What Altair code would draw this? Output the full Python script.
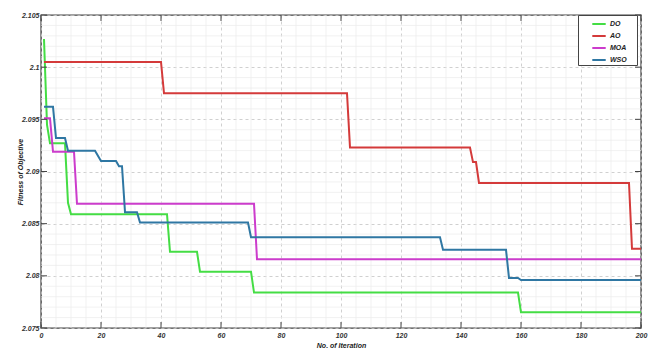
import altair as alt
import pandas as pd

series_names = ["DO", "AO", "MOA", "WSO"]
series_colors = ["#44dd44", "#d43a3a", "#cc3ccc", "#2f77a3"]

do_iter = [1, 2, 3, 8, 9, 10, 42, 43, 52, 53, 70, 71, 159, 160, 200]
do_fit = [2.1027, 2.0945, 2.0927, 2.0927, 2.0870, 2.0859, 2.0859, 2.0823, 2.0823,
          2.0804, 2.0804, 2.0784, 2.0784, 2.0765, 2.0765]

ao_iter = [1, 40, 41, 102, 103, 143, 144, 145, 146, 196, 197, 200]
ao_fit = [2.1005, 2.1005, 2.0975, 2.0975, 2.0923, 2.0923, 2.0909, 2.0909, 2.0889,
          2.0889, 2.0826, 2.0826]

moa_iter = [1, 3, 4, 11, 12, 71, 72, 200]
moa_fit = [2.0951, 2.0951, 2.0919, 2.0919, 2.0869, 2.0869, 2.0816, 2.0816]

wso_iter = [1, 4, 5, 8, 9, 18, 20, 25, 26, 27, 28, 32, 33, 69, 70, 133, 134, 155,
            156, 159, 160, 200]
wso_fit = [2.0962, 2.0962, 2.0932, 2.0932, 2.0920, 2.0920, 2.0910, 2.0910, 2.0905,
           2.0905, 2.0861, 2.0861, 2.0851, 2.0851, 2.0837, 2.0837, 2.0825, 2.0825,
           2.0798, 2.0798, 2.0796, 2.0796]

x_ticks = list(range(0, 201, 20))
y_ticks = [2.075, 2.08, 2.085, 2.09, 2.095, 2.1, 2.105]
x_minor = [v for v in range(0, 201, 5) if v % 20 != 0]
y_minor = [round(2.075 + 0.001 * i, 3) for i in range(31) if i % 5 != 0]

rows = []
for name, its, fits in zip(series_names, [do_iter, ao_iter, moa_iter, wso_iter],
                           [do_fit, ao_fit, moa_fit, wso_fit]):
    for i, f in zip(its, fits):
        rows.append({"Algorithm": name, "iter": i, "fit": f})
df = pd.DataFrame(rows)

W, H = 600, 313
FONT = "Liberation Sans"

xscale = alt.Scale(domain=[0, 200], nice=False, zero=False)
yscale = alt.Scale(domain=[2.075, 2.105], nice=False, zero=False)

xaxis = alt.Axis(values=x_ticks, title="No. of Iteration", ticks=False, domain=False,
                 labelFont=FONT, labelFontSize=7, labelFontStyle="italic",
                 labelFontWeight="bold", labelColor="#333333", labelPadding=3,
                 titleFont=FONT, titleFontSize=7, titleFontStyle="italic",
                 titleFontWeight="bold", titleColor="#222222", titlePadding=3,
                 grid=True, gridDash=[3, 3], gridColor="#c4c4c4", gridWidth=0.8,
                 labelFlush=False)
yaxis = alt.Axis(values=y_ticks, title="Fitness of Objective", ticks=False, domain=False,
                 format=".3~f",
                 labelFont=FONT, labelFontSize=7, labelFontStyle="italic",
                 labelFontWeight="bold", labelColor="#333333", labelPadding=2,
                 titleFont=FONT, titleFontSize=7, titleFontStyle="italic",
                 titleFontWeight="bold", titleColor="#222222", titleX=-18,
                 grid=True, gridDash=[3, 3], gridColor="#c4c4c4", gridWidth=0.8,
                 labelFlush=False)

minor_x = alt.Chart(pd.DataFrame({"x": x_minor})).mark_rule(
    color="#ebebeb", strokeWidth=0.7).encode(x=alt.X("x:Q", scale=xscale, axis=xaxis))
minor_y = alt.Chart(pd.DataFrame({"y": y_minor})).mark_rule(
    color="#ebebeb", strokeWidth=0.7).encode(y=alt.Y("y:Q", scale=yscale, axis=yaxis))

lines = alt.Chart(df).mark_line(strokeWidth=2, interpolate="linear").encode(
    x=alt.X("iter:Q", scale=xscale, axis=xaxis),
    y=alt.Y("fit:Q", scale=yscale, axis=yaxis),
    color=alt.Color("Algorithm:N",
                    scale=alt.Scale(domain=series_names, range=series_colors),
                    legend=alt.Legend(title=" ", titleOrient="right", titlePadding=9,
                                      titleFontSize=7,
                                      orient="none", legendX=537, legendY=0,
                                      symbolType="stroke", symbolStrokeWidth=2,
                                      symbolSize=180, symbolOffset=12,
                                      labelFont=FONT, labelFontSize=7,
                                      labelFontStyle="italic", labelFontWeight="bold",
                                      labelColor="#222222", labelOffset=3,
                                      padding=1, rowPadding=0,
                                      strokeColor="#444444", fillColor="white")),
    order=alt.Order("iter:Q"),
)

tick_df_x = pd.DataFrame({"x": x_ticks})
tick_df_y = pd.DataFrame({"y": y_ticks})
tick_b = alt.Chart(tick_df_x).mark_rule(color="#444444", strokeWidth=1).encode(
    x=alt.X("x:Q", scale=xscale, axis=xaxis), y=alt.value(H), y2=alt.value(H - 6))
tick_t = alt.Chart(tick_df_x).mark_rule(color="#444444", strokeWidth=1).encode(
    x=alt.X("x:Q", scale=xscale, axis=xaxis), y=alt.value(0), y2=alt.value(6))
tick_l = alt.Chart(tick_df_y).mark_rule(color="#444444", strokeWidth=1).encode(
    y=alt.Y("y:Q", scale=yscale, axis=yaxis), x=alt.value(0), x2=alt.value(6))
tick_r = alt.Chart(tick_df_y).mark_rule(color="#444444", strokeWidth=1).encode(
    y=alt.Y("y:Q", scale=yscale, axis=yaxis), x=alt.value(W), x2=alt.value(W - 6))

chart = alt.layer(minor_x, minor_y, lines, tick_b, tick_t, tick_l, tick_r).properties(
    width=W, height=H,
    autosize=alt.AutoSizeParams(type="none"),
    padding={"left": 41, "top": 15, "right": 8, "bottom": 22},
    background="white",
).configure_view(stroke="#444444", strokeWidth=1.4)

chart.save("out.html", embed_options={"renderer": "svg", "actions": False})
